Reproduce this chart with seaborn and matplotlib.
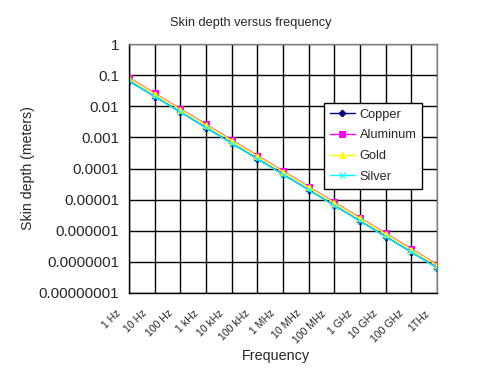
import numpy as np
import pandas as pd
import matplotlib
matplotlib.use('Agg')
import matplotlib.pyplot as plt
import matplotlib.transforms as mtransforms
import seaborn as sns

# datos (profundidad de piel en metros)
frequencies = ['1 Hz', '10 Hz', '100 Hz', '1 kHz', '10 kHz', '100 kHz', '1 MHz',
               '10 MHz', '100 MHz', '1 GHz', '10 GHz', '100 GHz', '1THz']
copper = [0.0652, 0.0206, 0.00652, 0.00206, 0.000652, 0.000206, 0.0000652,
          0.0000206, 0.00000652, 0.00000206, 0.000000652, 0.000000206, 0.0000000652]
aluminum = [0.0822, 0.026, 0.00822, 0.0026, 0.000822, 0.00026, 0.0000822,
            0.000026, 0.00000822, 0.0000026, 0.000000822, 0.00000026, 0.0000000822]
gold = [0.0786, 0.0249, 0.00786, 0.00249, 0.000786, 0.000249, 0.0000786,
        0.0000249, 0.00000786, 0.00000249, 0.000000786, 0.000000249, 0.0000000786]
silver = [0.0636, 0.0201, 0.00636, 0.00201, 0.000636, 0.000201, 0.0000636,
          0.0000201, 0.00000636, 0.00000201, 0.000000636, 0.000000201, 0.0000000636]
y_ticks = [1e-8, 1e-7, 1e-6, 1e-5, 1e-4, 1e-3, 1e-2, 1e-1, 1]
y_labels = ['0.00000001', '0.0000001', '0.000001', '0.00001', '0.0001',
            '0.001', '0.01', '0.1', '1']

metals = ['Copper', 'Aluminum', 'Gold', 'Silver']
df = pd.DataFrame({
    'Frequency': frequencies * 4,
    'pos': list(range(len(frequencies))) * 4,
    'Metal': np.repeat(metals, len(frequencies)),
    'Depth': copper + aluminum + gold + silver,
})

sns.set_style('white')
plt.rcParams['font.family'] = ['Liberation Sans', 'DejaVu Sans']

fig = plt.figure(figsize=(5.03, 3.83), dpi=100)
ax = fig.add_axes([0.2565, 0.235, 0.6123, 0.650])

palette = {'Copper': '#000080', 'Aluminum': '#FF00FF', 'Gold': '#FFFF00', 'Silver': '#00FFFF'}
markers = {'Copper': 'D', 'Aluminum': 's', 'Gold': '^', 'Silver': 'x'}
sizes = {'Copper': 3.5, 'Aluminum': 5, 'Gold': 5, 'Silver': 4.5}

for m in metals:
    sub = df[df['Metal'] == m]
    sns.lineplot(data=sub, x='pos', y='Depth', color=palette[m], marker=markers[m],
                 markersize=sizes[m], markeredgecolor=palette[m], linewidth=1,
                 label=m, ax=ax, sort=False)

ax.set_yscale('log')
ax.set_ylim(1e-8, 1)
ax.set_xlim(0, len(frequencies) - 1)
ax.set_yticks(y_ticks)
ax.set_yticklabels(y_labels, fontsize=10.8)
ax.minorticks_off()
ax.set_xticks(range(len(frequencies)))
ax.set_xticklabels(frequencies, rotation=45, ha='right', va='top', rotation_mode='anchor', fontsize=7.6)
ax.grid(True, color='black', linewidth=1)
ax.tick_params(axis='both', direction='out', length=4, width=1, color='black', pad=3)
ax.tick_params(axis='x', pad=7)
# mover las etiquetas del eje x un poco a la izquierda, como en el original
shift = mtransforms.ScaledTranslation(-0.13, 0, fig.dpi_scale_trans)
for lbl in ax.get_xticklabels():
    lbl.set_transform(lbl.get_transform() + shift)

for side in ['left', 'bottom']:
    ax.spines[side].set_color('black')
    ax.spines[side].set_linewidth(1)
for side in ['top', 'right']:
    ax.spines[side].set_color('#808080')
    ax.spines[side].set_linewidth(1)

ax.set_xlabel('Frequency', fontsize=10.4)
ax.xaxis.set_label_coords(0.477, -0.253)
ax.xaxis.label.set_va('center')
ax.set_ylabel('Skin depth (meters)', fontsize=10.2)
ax.yaxis.set_label_coords(-0.328, 0.5)
ax.yaxis.label.set_va('center')
fig.text(0.499, 0.94, 'Skin depth versus frequency', fontsize=9.2, ha='center', va='center')

leg = ax.legend(loc='upper left', bbox_to_anchor=(0.644, 0.731), bbox_transform=fig.transFigure,
                fontsize=9.2, frameon=True, fancybox=False, framealpha=1, edgecolor='black',
                borderpad=0.45, borderaxespad=0, handlelength=2.0, handletextpad=0.35,
                labelspacing=0.68)
leg.get_frame().set_linewidth(1)

fig.savefig('out.png', dpi=100)
